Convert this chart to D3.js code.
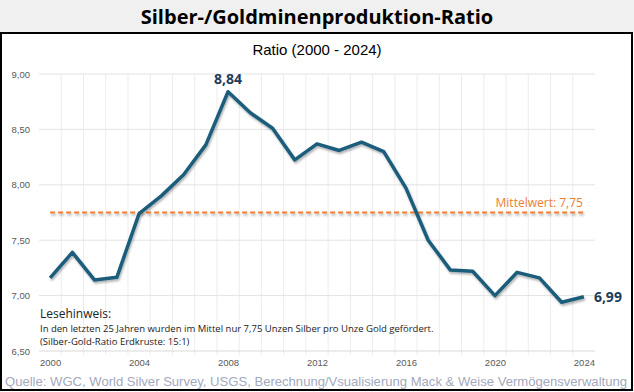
<!DOCTYPE html>
<html><head><meta charset="utf-8">
<script src="https://cdn.jsdelivr.net/npm/d3@7"></script>
<style>body{margin:0;background:#fff}svg{display:block}</style>
</head><body>
<svg id="c" width="634" height="392"></svg>
<script>
const years = [2000,2001,2002,2003,2004,2005,2006,2007,2008,2009,2010,2011,2012,2013,2014,2015,2016,2017,2018,2019,2020,2021,2022,2023,2024];
const ratio = [7.16,7.39,7.14,7.165,7.74,7.90,8.09,8.36,8.84,8.65,8.51,8.225,8.37,8.31,8.385,8.30,7.97,7.50,7.23,7.22,7.00,7.21,7.16,6.94,6.99];
const meanValue = 7.75;
const yTicks = [6.5,7.0,7.5,8.0,8.5,9.0];
const xTickYears = [2000,2004,2008,2012,2016,2020,2024];
const titleText = "Silber-/Goldminenproduktion-Ratio";
const subtitleText = "Ratio (2000 - 2024)";
const meanLabel = "Mittelwert: 7,75";
const noteLines = ["Lesehinweis:","In den letzten 25 Jahren wurden im Mittel nur 7,75 Unzen Silber pro Unze Gold gefördert.","(Silber-Gold-Ratio Erdkruste: 15:1)"];
const sourceText = "Quelle: WGC, World Silver Survey, USGS, Berechnung/Vsualisierung Mack & Weise Vermögensverwaltung";

const svg = d3.select("#c");
const fmt = v => d3.format(".2f")(v).replace(".", ",");

const defs = svg.append("defs");
const f = defs.append("filter").attr("id","sh").attr("filterUnits","userSpaceOnUse")
  .attr("x",0).attr("y",0).attr("width",634).attr("height",392);
f.append("feDropShadow").attr("dx",1).attr("dy",2).attr("stdDeviation",1.3).attr("flood-color","#000").attr("flood-opacity",0.3);

// Title band
svg.append("rect").attr("x",0).attr("y",0).attr("width",634).attr("height",33).attr("fill","#f0f0f0");
svg.append("text").attr("x",317).attr("y",24).attr("text-anchor","middle")
  .attr("font-family","'Open Sans', sans-serif").attr("font-weight","bold").attr("font-size",20).attr("fill","#000").text(titleText);
// Border box
svg.append("rect").attr("x",1).attr("y",33).attr("width",631).attr("height",357).attr("fill","none").attr("stroke","#000").attr("stroke-width",2);

svg.append("text").attr("x",317).attr("y",55).attr("text-anchor","middle")
  .attr("font-family","'Liberation Sans', Arial, sans-serif").attr("font-size",15).attr("fill","#000").text(subtitleText);

const x = d3.scaleLinear().domain([1999.5,2024.5]).range([39,595]);
const y = d3.scaleLinear().domain([6.5,9.0]).range([351,74]);

const g = svg.append("g");
// vertical gridlines at category boundaries
const vb = d3.range(2000.5, 2024.5, 1);
g.selectAll(".vg").data(vb).join("line")
  .attr("x1",d=>x(d)).attr("x2",d=>x(d)).attr("y1",y(9.0)).attr("y2",y(6.5)+4)
  .attr("stroke","#ececec").attr("stroke-width",1);
// horizontal gridlines
g.selectAll(".hg").data(yTicks).join("line")
  .attr("x1",x(1999.5)).attr("x2",x(2024.5)).attr("y1",d=>y(d)).attr("y2",d=>y(d))
  .attr("stroke",d=>d===6.5?"#d9d9d9":"#e3e3e3").attr("stroke-width",1);

// y axis labels
const yAxis = d3.axisLeft(y).tickValues(yTicks).tickFormat(fmt).tickSize(0).tickPadding(0);
const ya = svg.append("g").attr("transform","translate(30,0)").call(yAxis);
ya.select(".domain").remove();
ya.selectAll("text").attr("font-family","'Liberation Sans', Arial, sans-serif").attr("font-size",9.5).attr("fill","#595959");

// x axis labels
const xAxis = d3.axisBottom(x).tickValues(xTickYears).tickFormat(d3.format("d")).tickSize(0).tickPadding(0);
const xa = svg.append("g").attr("transform","translate(0,359)").call(xAxis);
xa.select(".domain").remove();
xa.selectAll("text").attr("font-family","'Liberation Sans', Arial, sans-serif").attr("font-size",9.5).attr("fill","#595959");

// mean line
svg.append("line").attr("x1",x(2000)).attr("x2",x(2024)).attr("y1",y(meanValue)).attr("y2",y(meanValue))
  .attr("stroke","#ED7D31").attr("stroke-width",2).attr("stroke-dasharray","5,3").attr("filter","url(#sh)");
svg.append("text").attr("x",x(2024)-1).attr("y",y(meanValue)-6).attr("text-anchor","end")
  .attr("font-family","'Open Sans', sans-serif").attr("font-size",12).attr("fill","#ED7D31").text(meanLabel);

// data line
const line = d3.line().x((d,i)=>x(years[i])).y(d=>y(d));
svg.append("path").datum(ratio).attr("d",line).attr("fill","none")
  .attr("stroke","#1b5d7c").attr("stroke-width",3.5).attr("stroke-linejoin","round").attr("filter","url(#sh)");

// data labels
const iMax = ratio.indexOf(d3.max(ratio));
svg.append("text").attr("x",x(years[iMax])).attr("y",y(ratio[iMax])-8).attr("text-anchor","middle")
  .attr("font-family","'Open Sans', sans-serif").attr("font-weight","bold").attr("font-size",14).attr("fill","#1f3b5c").text(fmt(ratio[iMax]));
const iLast = ratio.length-1;
svg.append("text").attr("x",x(years[iLast])+10).attr("y",y(ratio[iLast])+5).attr("text-anchor","start")
  .attr("font-family","'Open Sans', sans-serif").attr("font-weight","bold").attr("font-size",14).attr("fill","#1f3b5c").text(fmt(ratio[iLast]));

// note
svg.append("text").attr("x",40).attr("y",318).attr("font-family","'Open Sans', sans-serif").attr("font-size",12).attr("fill","#222").text(noteLines[0]);
svg.append("text").attr("x",40).attr("y",332).attr("font-family","'Open Sans', sans-serif").attr("font-size",9.5).attr("fill","#222").text(noteLines[1]);
svg.append("text").attr("x",40).attr("y",345).attr("font-family","'Open Sans', sans-serif").attr("font-size",9.5).attr("fill","#222").text(noteLines[2]);

// source
svg.append("text").attr("x",5).attr("y",385.5).attr("font-family","'Liberation Sans', Arial, sans-serif").attr("font-size",13)
  .attr("textLength",622).attr("lengthAdjust","spacingAndGlyphs").attr("fill","#a3a8bd").text(sourceText);
</script>
</body></html>
